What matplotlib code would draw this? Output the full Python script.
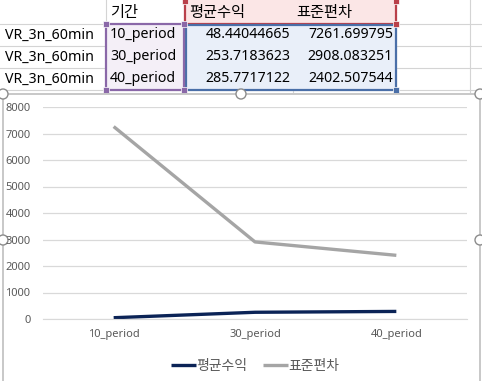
import numpy as np
import matplotlib.pyplot as plt
from matplotlib.patches import Rectangle, Circle

plt.rcParams['font.family'] = ['Noto Sans', 'Noto Sans CJK KR', 'DejaVu Sans']

# data
row_names = ["VR_3n_60min", "VR_3n_60min", "VR_3n_60min"]
periods = ["10_period", "30_period", "40_period"]
mean_ret = [48.44044665, 253.7183623, 285.7717122]
std_dev = [7261.699795, 2908.083251, 2402.507544]
mean_txt = ["48.44044665", "253.7183623", "285.7717122"]
std_txt = ["7261.699795", "2908.083251", "2402.507544"]
headers = ["기간", "평균수익", "표준편차"]
yticks = [0, 1000, 2000, 3000, 4000, 5000, 6000, 7000, 8000]

W, H = 482, 381
fig = plt.figure(figsize=(W / 100, H / 100), dpi=100)
bg = fig.add_axes([0, 0, 1, 1])
bg.set_xlim(0, W)
bg.set_ylim(H, 0)
bg.axis("off")

# sheet grid
grid_c = "#d4d4d4"
for x in [106, 184, 293, 396, 470]:
    bg.plot([x, x], [0, 92], color=grid_c, lw=0.8, zorder=1)
for y in [24, 46, 68, 90]:
    bg.plot([0, W], [y, y], color=grid_c, lw=0.8, zorder=1)

# selection highlights
bg.add_patch(Rectangle((185, 0), 211, 24, facecolor="#fbe6e6", edgecolor="none", zorder=2))
bg.add_patch(Rectangle((185, 24), 211, 66, facecolor="#e9eff9", edgecolor="none", zorder=2))
bg.add_patch(Rectangle((106, 24), 78, 66, facecolor="#f4eff7", edgecolor="none", zorder=2))
bg.add_patch(Rectangle((185, -2), 211, 26, facecolor="none", edgecolor="#b9404a", lw=1.6, zorder=3))
bg.add_patch(Rectangle((186, 25), 210, 65, facecolor="none", edgecolor="#4a6fa8", lw=1.6, zorder=3))
bg.add_patch(Rectangle((106, 24), 78, 66, facecolor="none", edgecolor="#8a68a8", lw=1.6, zorder=3))
for (x, y, c) in [(185, 1, "#b9404a"), (396, 1, "#b9404a"), (396, 24, "#b9404a"),
                  (106, 24, "#8a68a8"), (184, 24, "#8a68a8"), (106, 90, "#8a68a8"),
                  (184, 90, "#8a68a8"), (396, 90, "#4a6fa8")]:
    bg.add_patch(Rectangle((x - 3, y - 3), 6, 6, facecolor=c, edgecolor="white", lw=0.5, zorder=4))

fs = 10.2
bg.text(110, 13, headers[0], fontsize=11, va="center", ha="left", zorder=5)
bg.text(189, 13, headers[1], fontsize=11, va="center", ha="left", zorder=5)
bg.text(296, 13, headers[2], fontsize=11, va="center", ha="left", zorder=5)
for i in range(3):
    yc = 35 + 22 * i
    bg.text(5, yc, row_names[i], fontsize=fs, va="center", ha="left", zorder=5)
    bg.text(110, yc, periods[i], fontsize=fs, va="center", ha="left", zorder=5)
    bg.text(290, yc, mean_txt[i], fontsize=fs, va="center", ha="right", zorder=5)
    bg.text(393, yc, std_txt[i], fontsize=fs, va="center", ha="right", zorder=5)

# chart frame
bg.add_patch(Rectangle((3, 94), 477, 300, facecolor="white", edgecolor="#bfbfbf", lw=1.2, zorder=6))
for (x, y) in [(3, 94), (241, 94), (480, 94), (3, 240), (480, 240)]:
    bg.add_patch(Circle((x, y), 5, facecolor="white", edgecolor="#8c8c8c", lw=1.0, zorder=7))

# chart
ax = fig.add_axes([43 / W, (H - 319) / H, (467 - 43) / W, (319 - 107) / H], zorder=8)
ax.patch.set_alpha(0)
xs = np.arange(len(periods))
ax.plot(xs, mean_ret, color="#0b2356", lw=2.4, label="평균수익", solid_capstyle="butt")
ax.plot(xs, std_dev, color="#a5a5a5", lw=2.4, label="표준편차", solid_capstyle="butt")
ax.set_xlim(-0.5, 2.5)
ax.set_ylim(0, 8000)
ax.set_yticks(yticks)
ax.set_yticklabels([str(v) for v in yticks])
ax.set_xticks(xs)
ax.set_xticklabels(periods)
ax.grid(axis="y", color="#d9d9d9", lw=0.9)
ax.set_axisbelow(True)
for s in ["top", "right", "left"]:
    ax.spines[s].set_visible(False)
ax.spines["bottom"].set_color("#d9d9d9")
ax.tick_params(length=0, labelsize=8, colors="#595959", pad=7)
ax.tick_params(axis="y", pad=9)
leg = ax.legend(loc="upper center", bbox_to_anchor=(0.5, -0.13), ncol=2, frameon=False,
                fontsize=10, handlelength=1.8, handletextpad=0.05, columnspacing=1.1)
for t in leg.get_texts():
    t.set_color("#595959")

fig.savefig("out.png", dpi=100)
